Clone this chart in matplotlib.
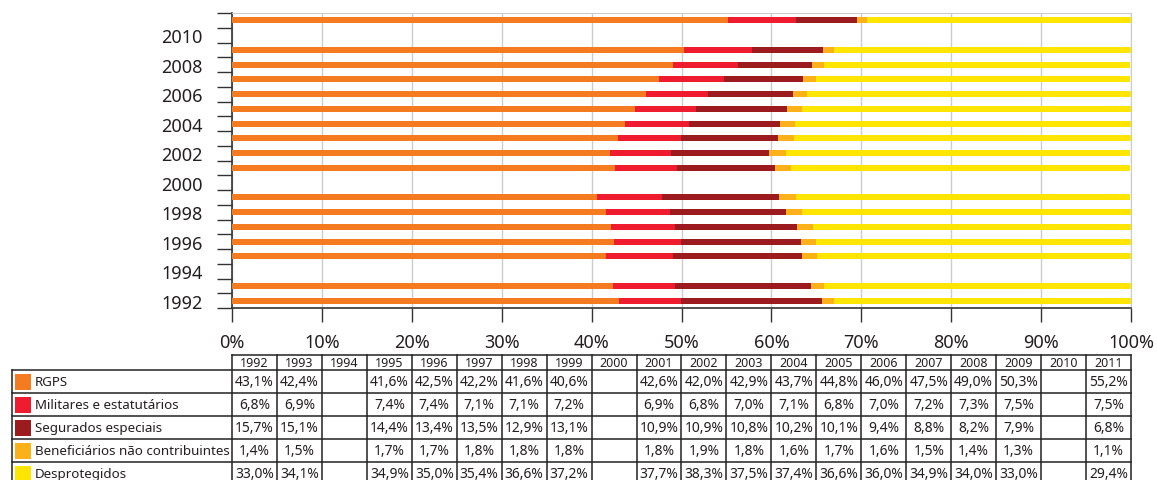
import numpy as np
import matplotlib
matplotlib.use('Agg')
import matplotlib.pyplot as plt
from matplotlib.patches import Rectangle

plt.rcParams['font.family'] = ['Noto Sans', 'DejaVu Sans']

years = list(range(1992, 2012))
series_names = ['RGPS', 'Militares e estatutários', 'Segurados especiais',
                'Beneficiários não contribuintes', 'Desprotegidos']
colors = ['#F47B20', '#EE1C2E', '#9B1B1F', '#FBB21A', '#FFE500']

rgps = [43.1, 42.4, None, 41.6, 42.5, 42.2, 41.6, 40.6, None, 42.6,
        42.0, 42.9, 43.7, 44.8, 46.0, 47.5, 49.0, 50.3, None, 55.2]
militares = [6.8, 6.9, None, 7.4, 7.4, 7.1, 7.1, 7.2, None, 6.9,
             6.8, 7.0, 7.1, 6.8, 7.0, 7.2, 7.3, 7.5, None, 7.5]
segurados = [15.7, 15.1, None, 14.4, 13.4, 13.5, 12.9, 13.1, None, 10.9,
             10.9, 10.8, 10.2, 10.1, 9.4, 8.8, 8.2, 7.9, None, 6.8]
beneficiarios = [1.4, 1.5, None, 1.7, 1.7, 1.8, 1.8, 1.8, None, 1.8,
                 1.9, 1.8, 1.6, 1.7, 1.6, 1.5, 1.4, 1.3, None, 1.1]
desprotegidos = [33.0, 34.1, None, 34.9, 35.0, 35.4, 36.6, 37.2, None, 37.7,
                 38.3, 37.5, 37.4, 36.6, 36.0, 34.9, 34.0, 33.0, None, 29.4]

series = [rgps, militares, segurados, beneficiarios, desprotegidos]

W, H = 1157, 481
fig = plt.figure(figsize=(W/100, H/100), dpi=100)

# ---- bar chart
ax = fig.add_axes([232/W, 1-309/H, (1131-232)/W, (309-14)/H])
ypos = np.arange(len(years))
left = np.zeros(len(years))
for vals, col in zip(series, colors):
    v = np.array([np.nan if x is None else x for x in vals])
    ax.barh(ypos, np.nan_to_num(v), left=left, height=0.4, color=col,
            linewidth=0, zorder=3)
    left += np.nan_to_num(v)

ax.set_xlim(0, 100)
ax.set_ylim(-0.5, len(years)-0.5)
ax.set_xticks(np.arange(0, 101, 10))
ax.set_xticklabels(['%d%%' % t for t in range(0, 101, 10)])
ax.xaxis.grid(True, color='#CCCCCC', lw=1, zorder=0)
ax.set_yticks([i for i, y in enumerate(years) if y % 2 == 0])
ax.set_yticklabels([str(y) for y in years if y % 2 == 0])
ax.set_yticks(np.arange(-0.5, len(years)), minor=True)
ax.tick_params(axis='y', which='major', length=0, pad=21, labelsize=13,
               labelcolor='#231F20')
ax.tick_params(axis='y', which='minor', length=11, width=1, color='#333333')
ax.tick_params(axis='x', which='major', length=10, width=1, color='#333333',
               pad=8, labelsize=13, labelcolor='#231F20')
for s in ['top', 'right']:
    ax.spines[s].set_color('#CCCCCC')
for s in ['left', 'bottom']:
    ax.spines[s].set_color('#333333')
    ax.spines[s].set_linewidth(1.2)

# ---- data table
colw = (1131-232)/20.0
L = (232-12)/colw
px = 1/colw
tab = fig.add_axes([12/W, 1-486/H, (1131-12)/W, 130/H])
tab.set_xlim(-L, 20)
tab.set_ylim(130, 0)
tab.axis('off')
lc = '#222222'
lw = 1.1
hh, rh = 15, 23
tab.plot([0, 20], [0, 0], color=lc, lw=lw, clip_on=False)
for k in range(6):
    tab.plot([-L, 20], [hh+k*rh]*2, color=lc, lw=lw, clip_on=False)
for c in range(21):
    tab.plot([c, c], [0, 130], color=lc, lw=lw, clip_on=False)
tab.plot([-L, -L], [hh, 130], color=lc, lw=lw, clip_on=False)

for c, y in enumerate(years):
    tab.text(c+0.5, hh/2+0.5, str(y), ha='center', va='center',
             fontsize=9, color='#231F20')

for r, (name, col, vals) in enumerate(zip(series_names, colors, series)):
    yc = hh + r*rh + rh/2
    tab.add_patch(Rectangle((-L+3*px, yc-8), 16*px, 16, color=col, lw=0))
    tab.text(-L+23*px, yc+0.5, name, ha='left', va='center', fontsize=9.6,
             color='#231F20')
    for c, v in enumerate(vals):
        if v is None:
            continue
        tab.text(c+0.5, yc+0.5, ('%.1f%%' % v).replace('.', ','),
                 ha='center', va='center', fontsize=10, color='#231F20')

fig.savefig('out.png', dpi=100)
